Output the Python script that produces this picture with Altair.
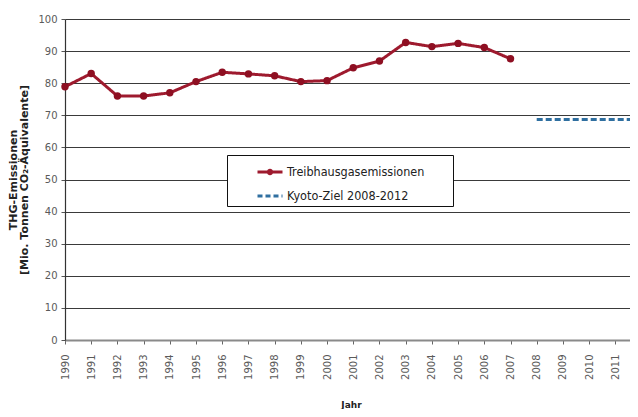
import altair as alt
import pandas as pd

# --- data ---
years = list(range(1990, 2008))
emissions = [78.9, 83.0, 76.0, 76.0, 77.0, 80.5, 83.4, 82.9, 82.3, 80.5,
             80.8, 84.8, 86.9, 92.7, 91.4, 92.4, 91.1, 87.6]
kyoto_years = [2008, 2012]
kyoto_values = [68.7, 68.7]
series_names = ["Treibhausgasemissionen", "Kyoto-Ziel 2008-2012"]
x_ticks = list(range(1990, 2012))
y_ticks = list(range(0, 101, 10))

RED = "#9E1A2E"
BLUE = "#2F6FA0"

df = pd.concat([
    pd.DataFrame({"Jahr": years, "Wert": emissions, "Reihe": series_names[0]}),
    pd.DataFrame({"Jahr": kyoto_years, "Wert": kyoto_values, "Reihe": series_names[1]}),
], ignore_index=True)

x = alt.X(
    "Jahr:Q",
    scale=alt.Scale(domain=[1990, 2011.56], nice=False, zero=False),
    axis=alt.Axis(
        title="Jahr", values=x_ticks, format="d", labelAngle=270,
        labelAlign="right", labelBaseline="middle", labelPadding=10,
        labelFont="DejaVu Sans", labelFontSize=10, labelColor="#5a5a5a",
        tickColor="#666666", tickSize=4, domainColor="#8a8a8a", domainWidth=2,
        grid=False, titleFont="DejaVu Sans", titleFontSize=9,
        titleFontWeight="bold", titleColor="#222222",
        titleX=286, titleY=67, titleAnchor="middle", titleBaseline="alphabetic",
    ),
)
y = alt.Y(
    "Wert:Q",
    scale=alt.Scale(domain=[0, 100], nice=False),
    axis=alt.Axis(
        title=["THG-Emissionen", "[Mio. Tonnen CO₂-Äquivalente]"],
        values=y_ticks, labelFont="DejaVu Sans", labelFontSize=10,
        labelColor="#5a5a5a", labelPadding=4, tickSize=4, tickColor="#555555",
        domainColor="#333333", domainWidth=1.2,
        gridColor="#3a3a3a", gridWidth=1,
        titleFont="DejaVu Sans", titleFontSize=11, titleFontWeight="bold",
        titleColor="#222222", titlePadding=8, titleLineHeight=11,
    ),
)

color = alt.Color(
    "Reihe:N",
    scale=alt.Scale(domain=series_names, range=[RED, BLUE]),
    legend=alt.Legend(
        title=None, orient="none", legendX=162, legendY=136,
        strokeColor="#111111", fillColor="white", padding=3,
        symbolOffset=26, symbolSize=625, symbolStrokeWidth=3,
        symbolFillColor=RED,
        symbolType=alt.ExprRef(expr="datum.value == 'Treibhausgasemissionen' ? 'M-1,0L1,0M-0.14,0A0.14,0.14,0,1,1,0.14,0A0.14,0.14,0,1,1,-0.14,0' : 'stroke'"),
        symbolDash=alt.ExprRef(expr="datum.value == 'Treibhausgasemissionen' ? [] : [5, 3]"),
        labelExpr="datum.label + '\u2800\u2800\u2800'",
        labelFont="DejaVu Sans Condensed, Roboto, sans-serif", labelFontSize=12.5,
        labelColor="#222222", labelOffset=3, rowPadding=2, labelLimit=400,
    ),
)
dash = alt.StrokeDash(
    "Reihe:N",
    scale=alt.Scale(domain=series_names, range=[[1, 0], [6, 3]]),
    legend=None,
)

lines = alt.Chart(df).mark_line(strokeWidth=3, clip=True).encode(
    x=x, y=y, color=color, strokeDash=dash, detail="Reihe:N"
)
points = alt.Chart(df).transform_filter(
    alt.datum.Reihe == series_names[0]
).mark_point(filled=True, size=55, opacity=1, shape="circle").encode(
    x=x, y=y, color=alt.Color("Reihe:N", scale=alt.Scale(domain=series_names, range=["#8E0F22", BLUE]), legend=None)
)

chart = alt.layer(lines, points).resolve_scale(color="independent").properties(
    width=565, height=321,
    autosize=alt.AutoSizeParams(type="none"),
    padding={"left": 57, "top": 11, "right": 0, "bottom": 69},
    background="white",
).configure_view(stroke=None)

chart.save("out.html", embed_options={"renderer": "svg", "actions": False})
